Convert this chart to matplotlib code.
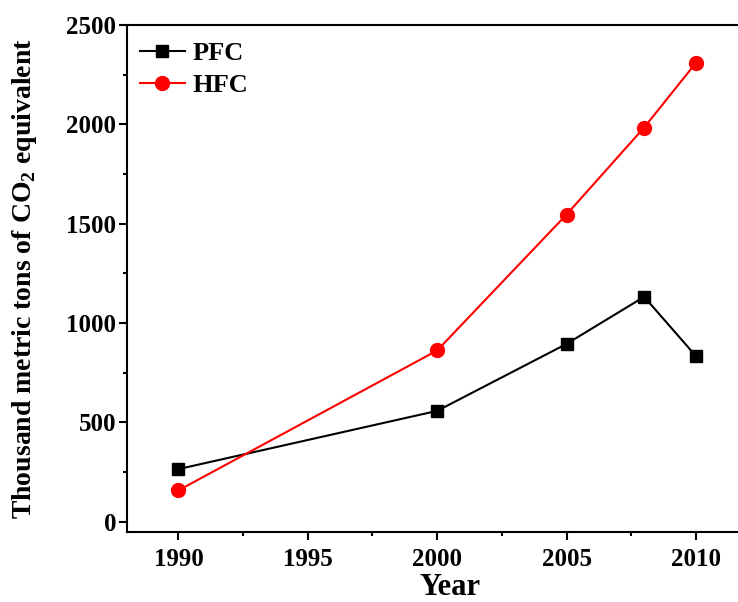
import matplotlib
matplotlib.use("Agg")
import matplotlib.pyplot as plt
from matplotlib.ticker import MultipleLocator

years = [1990, 2000, 2005, 2008, 2010]
pfc = [265, 558, 895, 1132, 834]
hfc = [158, 862, 1546, 1984, 2309]
x_ticks = [1990, 1995, 2000, 2005, 2010]
y_ticks = [0, 500, 1000, 1500, 2000, 2500]

plt.rcParams["font.family"] = ["Liberation Serif", "DejaVu Serif"]
plt.rcParams["font.weight"] = "bold"
plt.rcParams["mathtext.fontset"] = "custom"
plt.rcParams["mathtext.rm"] = "Liberation Serif:bold"
plt.rcParams["mathtext.bf"] = "Liberation Serif:bold"

fig = plt.figure(figsize=(7.38, 6.02), dpi=100)
ax = fig.add_axes([0.1717, 0.1168, 0.8764, 0.8417])

ax.plot(years, pfc, color="black", lw=1.5, marker="s", ms=9, label="PFC")
ax.plot(years, hfc, color="red", lw=1.5, marker="o", ms=10, label="HFC")

ax.set_xlim(1988, 2013)
ax.set_ylim(-50, 2500)
ax.set_xticks(x_ticks)
ax.set_yticks(y_ticks)
ax.xaxis.set_minor_locator(MultipleLocator(2.5))
ax.yaxis.set_minor_locator(MultipleLocator(250))
ax.tick_params(which="major", direction="out", length=5.5, width=1.5, labelsize=18, pad=2)
ax.tick_params(which="minor", direction="out", length=3, width=1.5)
ax.tick_params(axis="x", which="major", pad=6)
for lbl in ax.get_xticklabels() + ax.get_yticklabels():
    lbl.set_fontweight("bold")
for s in ax.spines.values():
    s.set_linewidth(1.5)
ax.spines["right"].set_visible(False)

ax.set_xlabel("Year", fontsize=22, fontweight="bold", labelpad=2)
ax.set_ylabel(r"Thousand metric tons of CO$_2$ equivalent", fontsize=20,
              fontweight="bold", labelpad=20)

leg = ax.legend(loc="upper left", bbox_to_anchor=(-0.008, 1.003), frameon=False,
                fontsize=19, handlelength=1.7, handletextpad=0.3,
                labelspacing=0.3, borderaxespad=0.3)

fig.savefig("out.png", dpi=100)
